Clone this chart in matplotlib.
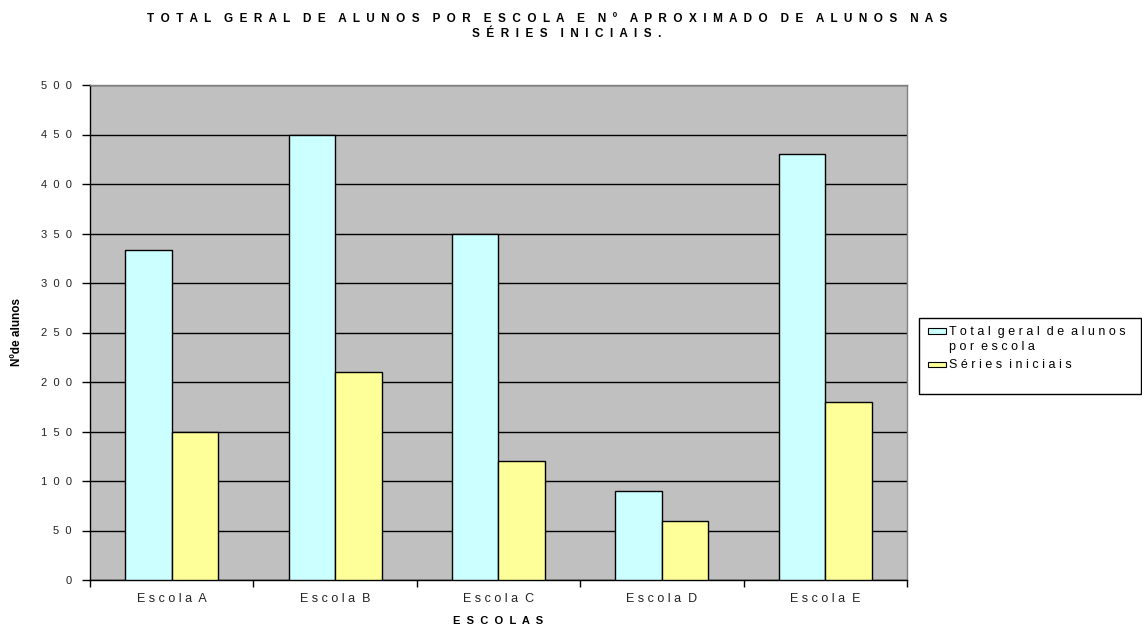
import matplotlib
matplotlib.use("Agg")
import matplotlib.pyplot as plt
from matplotlib.patches import Rectangle
import numpy as np

plt.rcParams["font.family"] = ["Liberation Sans", "DejaVu Sans"]

# --- data ---------------------------------------------------------------
schools = ["Escola A", "Escola B", "Escola C", "Escola D", "Escola E"]
total_students = [333, 450, 350, 90, 430]
initial_grades = [150, 210, 120, 60, 180]
series_labels = ["Total geral de alunos\npor escola", "Séries iniciais"]
series_colors = ["#CCFFFF", "#FFFF99"]
y_ticks = [0, 50, 100, 150, 200, 250, 300, 350, 400, 450, 500]
title_lines = ["TOTAL GERAL DE ALUNOS POR ESCOLA E Nº APROXIMADO DE ALUNOS NAS",
               "SÉRIES INICIAIS."]
x_title = "ESCOLAS"
y_title = "Nºde alunos"


def spaced(text, gap="  ", word_gap="   "):
    """Wide letter-spacing, as in the classic spreadsheet chart style."""
    out = []
    for line in text.split("\n"):
        out.append(word_gap.join(gap.join(w) for w in line.split(" ")))
    return "\n".join(out)


W, H = 1142, 628
fig = plt.figure(figsize=(W / 100, H / 100), dpi=100)
fig.patch.set_facecolor("white")

# plot area in pixel terms
left, right, top, bottom = 90, 907, 85, 580
ax = fig.add_axes([left / W, 1 - bottom / H, (right - left) / W, (bottom - top) / H])
ax.set_facecolor("#C0C0C0")

x = np.arange(len(schools))
bw = 0.285
bars1 = ax.bar(x - bw / 2, total_students, bw, color=series_colors[0],
               edgecolor="black", linewidth=1, zorder=3)
bars2 = ax.bar(x + bw / 2, initial_grades, bw, color=series_colors[1],
               edgecolor="black", linewidth=1, zorder=3)

ax.set_xlim(-0.5, len(schools) - 0.5)
ax.set_ylim(0, 500)

# horizontal gridlines
ax.set_axisbelow(True)
ax.yaxis.grid(True, color="black", linewidth=1, zorder=1)

# y axis
ax.set_yticks(y_ticks)
ax.set_yticklabels([spaced(str(v)) for v in y_ticks], fontsize=8, color="#222222")
ax.tick_params(axis="y", direction="out", length=6, width=1, pad=7)

# x axis: boundary ticks + centred category labels
ax.set_xticks(np.arange(-0.5, len(schools), 1))
ax.set_xticklabels([])
ax.tick_params(axis="x", which="major", direction="out", length=5, width=1)
ax.set_xticks(x, minor=True)
ax.set_xticklabels([spaced(s, gap=" ", word_gap="  ") for s in schools], minor=True,
                   fontsize=9, color="#222222")
ax.tick_params(axis="x", which="minor", length=0, pad=9)

for side in ("left", "bottom"):
    ax.spines[side].set_color("black")
    ax.spines[side].set_linewidth(1)
for side in ("top", "right"):
    ax.spines[side].set_color("#808080")
    ax.spines[side].set_linewidth(1)

# titles
for line, cx, cy in zip(title_lines, (547, 567), (19, 34)):
    fig.text(cx / W, 1 - cy / H, spaced(line, gap="  ", word_gap="    "),
             ha="center", va="center", fontsize=8.5, fontweight="bold")
fig.text(498 / W, 1 - 621 / H, spaced(x_title), ha="center", va="center",
         fontsize=8, fontweight="bold")
fig.text(17 / W, 1 - 332 / H, y_title, ha="center", va="center",
         rotation=90, fontsize=8.5, fontweight="bold")

# legend box
fig.patches.append(Rectangle((919 / W, 1 - 394 / H), (1141 - 919) / W, (394 - 318) / H,
                             transform=fig.transFigure, facecolor="white",
                             edgecolor="black", linewidth=1))
legend_rows = [328, 362]
for label, color, row in zip(series_labels, series_colors, legend_rows):
    fig.patches.append(Rectangle((928 / W, 1 - (row + 5.5) / H), 18 / W, 5.5 / H,
                                 transform=fig.transFigure, facecolor=color,
                                 edgecolor="black", linewidth=0.8))
    fig.text(949 / W, 1 - (row - 2.5) / H, spaced(label, gap=" ", word_gap="  "),
             ha="left", va="top", fontsize=9, linespacing=1.4)

fig.savefig("out.png", dpi=100)
